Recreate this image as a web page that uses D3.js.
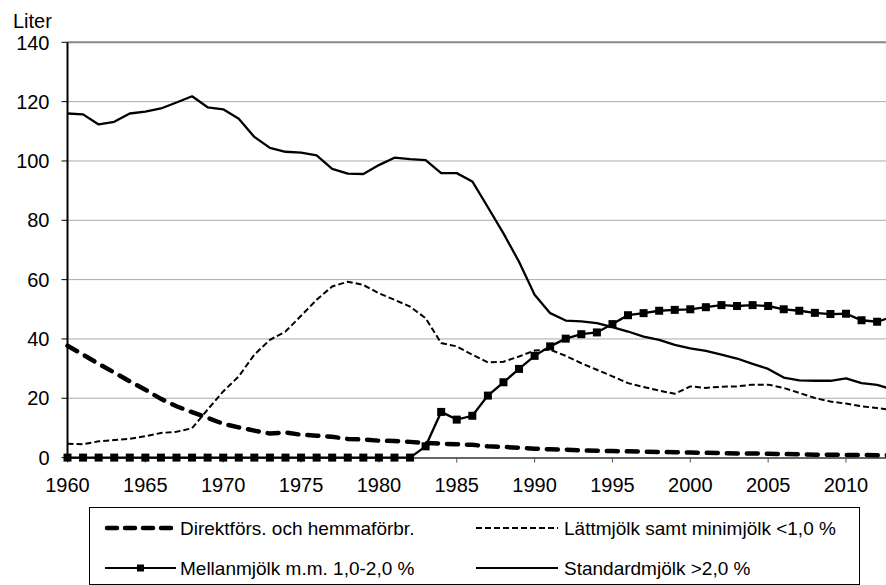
<!DOCTYPE html>
<html lang="sv">
<head>
    <meta charset="UTF-8">
    <title>Mjölk per person</title>
    <script src="https://cdn.jsdelivr.net/npm/d3@7/dist/d3.min.js"></script>
    <style>
        body { margin: 0; background: #fff; }
        svg text { font-family: "Liberation Sans", Arial, sans-serif; fill: #000; }
        .line { fill: none; stroke: #000; }
    </style>
</head>
<body>
<script>
    // data: liter per person och år
    var years = d3.range(1960, 2014);

    var direkt = [37.7, 34.7, 31.6, 28.7, 25.7, 22.9, 19.8, 17.3, 15.3, 13.4,
                  11.4, 10.2, 9.1, 8.1, 8.5, 7.7, 7.4, 7.0, 6.3, 6.1,
                  5.7, 5.6, 5.3, 4.9, 4.7, 4.5, 4.3, 3.8, 3.6, 3.3,
                  3.0, 2.8, 2.7, 2.4, 2.3, 2.2, 2.1, 2.0, 1.9, 1.8,
                  1.7, 1.6, 1.5, 1.4, 1.4, 1.3, 1.2, 1.1, 1.0, 1.0,
                  0.9, 0.9, 0.8, 0.8];

    var latt = [4.7, 4.5, 5.5, 5.9, 6.3, 7.2, 8.3, 8.7, 9.9, 16.2,
                22.3, 27.4, 34.7, 39.7, 42.5, 47.8, 53.2, 57.7, 59.3, 58.2,
                55.4, 53.2, 50.9, 47.0, 38.6, 37.5, 34.7, 32.1, 32.3, 34.1,
                36.1, 36.4, 34.3, 31.8, 29.6, 27.4, 25.1, 23.8, 22.6, 21.5,
                24.0, 23.5, 23.9, 24.0, 24.6, 24.6, 23.5, 21.8, 20.1, 18.9,
                18.2, 17.3, 16.7, 16.0];

    var mellan = [0, 0, 0, 0, 0, 0, 0, 0, 0, 0,
                  0, 0, 0, 0, 0, 0, 0, 0, 0, 0,
                  0, 0, 0, 3.8, 15.4, 12.8, 14.1, 20.9, 25.4, 29.9,
                  34.3, 37.5, 40.1, 41.6, 42.2, 45.0, 48.0, 48.7, 49.5, 49.8,
                  50.0, 50.7, 51.4, 51.1, 51.4, 51.1, 50.0, 49.5, 48.8, 48.4,
                  48.5, 46.3, 45.8, 47.5];

    var standard = [116.0, 115.7, 112.3, 113.2, 116.0, 116.6, 117.7, 119.7, 121.8, 118.1,
                    117.4, 114.2, 108.1, 104.4, 103.1, 102.8, 101.9, 97.3, 95.7, 95.6,
                    98.6, 101.1, 100.6, 100.3, 95.9, 95.9, 93.1, 84.4, 75.6, 66.0,
                    54.9, 48.7, 46.2, 45.9, 45.3, 44.0, 42.5, 40.8, 39.7, 38.0,
                    36.8, 36.0, 34.7, 33.4, 31.6, 29.9, 27.0, 26.0, 25.9, 25.9,
                    26.7, 25.1, 24.5, 23.0];

    var yTicks = [0, 20, 40, 60, 80, 100, 120, 140];
    var xTicks = [1960, 1965, 1970, 1975, 1980, 1985, 1990, 1995, 2000, 2005, 2010];
    var seriesNames = ["Direktförs. och hemmaförbr.", "Lättmjölk samt minimjölk <1,0 %",
                       "Mellanmjölk m.m. 1,0-2,0 %", "Standardmjölk >2,0 %"];

    var width = 886, height = 585;
    var plotLeft = 67.5, plotRight = 886, plotTop = 42.3, plotBottom = 457.6;

    var svg = d3.select("body").append("svg")
        .attr("width", width)
        .attr("height", height);

    var x = d3.scaleLinear().domain([1960, 2010]).range([plotLeft, 846]);
    var y = d3.scaleLinear().domain([0, 140]).range([plotBottom, plotTop]);

    // gridlines
    svg.append("g").selectAll("line")
        .data(yTicks.filter(function(d) { return d > 0 && d < 140; }))
        .enter().append("line")
        .attr("x1", plotLeft).attr("x2", plotRight)
        .attr("y1", function(d) { return y(d); })
        .attr("y2", function(d) { return y(d); })
        .attr("stroke", "#555")
        .attr("stroke-width", 1)
        .attr("stroke-dasharray", "1,1");

    svg.append("line")
        .attr("x1", plotLeft).attr("x2", plotRight)
        .attr("y1", y(140)).attr("y2", y(140))
        .attr("stroke", "#888")
        .attr("stroke-width", 2);

    // y axis
    svg.append("line")
        .attr("x1", plotLeft).attr("x2", plotLeft)
        .attr("y1", y(140)).attr("y2", plotBottom)
        .attr("stroke", "#000").attr("stroke-width", 2);

    var yt = svg.append("g").selectAll("g").data(yTicks).enter().append("g");
    yt.append("line")
        .attr("x1", plotLeft - 6).attr("x2", plotLeft)
        .attr("y1", function(d) { return y(d); })
        .attr("y2", function(d) { return y(d); })
        .attr("stroke", "#000").attr("stroke-width", 1);
    yt.append("text")
        .attr("x", 49.5)
        .attr("y", function(d) { return y(d); })
        .attr("dy", "0.36em")
        .attr("text-anchor", "end")
        .style("font-size", "20px")
        .text(function(d) { return d; });

    svg.append("text")
        .attr("x", 13).attr("y", 28)
        .style("font-size", "20px")
        .text("Liter");

    // x axis
    svg.append("line")
        .attr("x1", plotLeft).attr("x2", plotRight)
        .attr("y1", plotBottom + 0.5).attr("y2", plotBottom + 0.5)
        .attr("stroke", "#333").attr("stroke-width", 1.5);

    var xt = svg.append("g").selectAll("g").data(xTicks).enter().append("g");
    xt.append("line")
        .attr("x1", function(d) { return x(d); })
        .attr("x2", function(d) { return x(d); })
        .attr("y1", plotBottom).attr("y2", plotBottom + 5)
        .attr("stroke", "#555").attr("stroke-width", 1);
    xt.append("text")
        .attr("x", function(d) { return x(d); })
        .attr("y", 491.5)
        .attr("text-anchor", "middle")
        .style("font-size", "20px")
        .text(function(d) { return d; });

    // lines
    function lineFor(values) {
        return d3.line()
            .x(function(d, i) { return x(years[i]); })
            .y(function(d) { return y(d); })(values);
    }

    svg.append("path")
        .attr("class", "line")
        .attr("d", lineFor(standard))
        .attr("stroke-width", 2.3)
        .attr("stroke-linejoin", "round");

    svg.append("path")
        .attr("class", "line")
        .attr("d", lineFor(latt))
        .attr("stroke-width", 2)
        .attr("stroke-dasharray", "6,3");

    svg.append("path")
        .attr("class", "line")
        .attr("d", lineFor(mellan))
        .attr("stroke-width", 2.3);

    svg.append("g").selectAll("rect")
        .data(mellan)
        .enter().append("rect")
        .attr("x", function(d, i) { return x(years[i]) - 4; })
        .attr("y", function(d) { return y(d) - 4; })
        .attr("width", 8).attr("height", 8)
        .attr("fill", "#000");

    svg.append("path")
        .attr("class", "line")
        .attr("d", lineFor(direkt))
        .attr("stroke-width", 4.5)
        .attr("stroke-linecap", "round")
        .attr("stroke-dasharray", "11,9");

    // legend
    var legend = svg.append("g");
    legend.append("rect")
        .attr("x", 89.5).attr("y", 507.5)
        .attr("width", 770).attr("height", 77)
        .attr("fill", "#fff")
        .attr("stroke", "#000").attr("stroke-width", 1);

    var rowY = [528, 568];

    legend.append("line")
        .attr("x1", 107).attr("x2", 173)
        .attr("y1", rowY[0]).attr("y2", rowY[0])
        .attr("stroke", "#000").attr("stroke-width", 4.5)
        .attr("stroke-linecap", "round")
        .attr("stroke-dasharray", "10,8");

    legend.append("line")
        .attr("x1", 476).attr("x2", 558)
        .attr("y1", rowY[0]).attr("y2", rowY[0])
        .attr("stroke", "#000").attr("stroke-width", 2)
        .attr("stroke-dasharray", "6,3");

    legend.append("line")
        .attr("x1", 105).attr("x2", 176)
        .attr("y1", rowY[1]).attr("y2", rowY[1])
        .attr("stroke", "#000").attr("stroke-width", 2);
    legend.append("rect")
        .attr("x", 137).attr("y", rowY[1] - 3.5)
        .attr("width", 7).attr("height", 7)
        .attr("fill", "#000");

    legend.append("line")
        .attr("x1", 476).attr("x2", 558)
        .attr("y1", rowY[1]).attr("y2", rowY[1])
        .attr("stroke", "#000").attr("stroke-width", 2);

    var labelPos = [[180, rowY[0]], [564, rowY[0]], [180, rowY[1]], [564, rowY[1]]];
    legend.selectAll("text.lbl")
        .data(seriesNames)
        .enter().append("text")
        .attr("class", "lbl")
        .attr("x", function(d, i) { return labelPos[i][0]; })
        .attr("y", function(d, i) { return labelPos[i][1]; })
        .attr("dy", "0.36em")
        .style("font-size", "19px")
        .text(function(d) { return d; });
</script>
</body>
</html>
